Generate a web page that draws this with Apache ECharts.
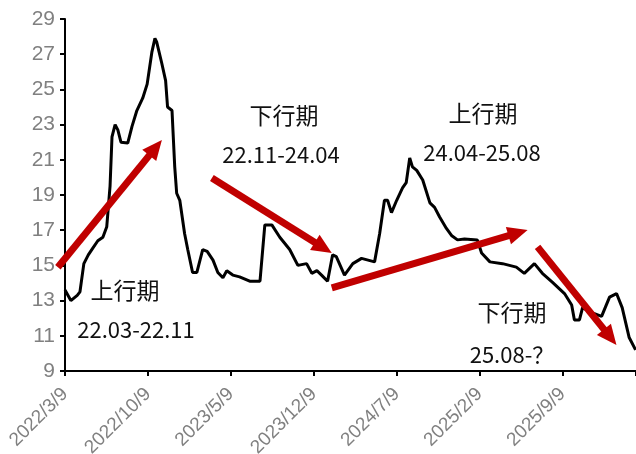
<!DOCTYPE html>
<html><head><meta charset="utf-8">
<script src="https://cdn.jsdelivr.net/npm/echarts@6/dist/echarts.min.js"></script>
<style>html,body{margin:0;padding:0;background:#fff}#c{width:636px;height:454px}</style>
</head><body><div id="c"></div>
<script>
const dates = ['2022-03-09','2022-03-24','2022-04-10','2022-04-17','2022-04-27','2022-05-08','2022-05-20','2022-06-02','2022-06-15','2022-06-25',
'2022-07-03','2022-07-08','2022-07-16','2022-07-23','2022-07-31','2022-08-18','2022-08-29','2022-09-11','2022-09-26','2022-10-07',
'2022-10-19','2022-10-27','2022-11-01','2022-11-14','2022-11-24','2022-11-29','2022-12-10','2022-12-17','2022-12-22','2022-12-30',
'2023-01-12','2023-01-20','2023-02-02','2023-02-13','2023-02-28','2023-03-09','2023-03-24','2023-04-06','2023-04-19','2023-04-29',
'2023-05-14','2023-06-01','2023-06-27','2023-07-23','2023-08-05','2023-08-23','2023-09-13','2023-10-08','2023-10-29','2023-11-21',
'2023-12-04','2023-12-17','2023-12-29','2024-01-14','2024-01-27','2024-02-06','2024-02-27','2024-03-18','2024-04-10','2024-05-13',
'2024-05-26','2024-06-08','2024-06-16','2024-06-26','2024-07-09','2024-07-24','2024-08-03','2024-08-12','2024-08-19','2024-08-30',
'2024-09-15','2024-10-03','2024-10-15','2024-10-28','2024-11-15','2024-11-28','2024-12-13','2024-12-31','2025-02-03','2025-02-14',
'2025-03-05','2025-04-07','2025-05-12','2025-06-02','2025-06-28','2025-07-18','2025-08-13','2025-09-14','2025-10-02','2025-10-09',
'2025-10-22','2025-10-30','2025-11-25','2025-12-18','2026-01-08','2026-01-26','2026-02-10','2026-02-28','2026-03-14'];
const values = [13.6,13.0,13.3,13.5,15.1,15.6,16.0,16.4,16.6,17.2,
19.5,22.3,23.0,22.7,22.0,21.95,22.9,23.8,24.5,25.3,
27.1,27.9,27.7,26.5,25.5,24.0,23.8,20.6,19.1,18.7,
16.8,15.9,14.6,14.6,15.9,15.8,15.3,14.6,14.3,14.7,
14.45,14.35,14.1,14.1,17.3,17.3,16.6,15.9,15.0,15.1,
14.55,14.7,14.45,14.1,15.6,15.5,14.45,15.1,15.4,15.2,
16.8,18.7,18.7,18.0,18.7,19.4,19.7,21.1,20.6,20.4,
19.85,18.55,18.3,17.75,17.1,16.7,16.45,16.5,16.45,15.7,
15.2,15.1,14.9,14.55,15.1,14.55,14.05,13.4,12.75,11.9,
11.9,12.6,12.3,12.1,13.2,13.4,12.6,10.9,10.2];
const tickLabels = ['2022/3/9','2022/10/9','2023/5/9','2023/12/9','2024/7/9','2025/2/9','2025/9/9'];
// annotation arrows in data coords [monthIndex, value]
const arrows = [
  [[-0.6,14.9],[8.18,22.13]],
  [[12.4,19.97],[22.52,15.70]],
  [[22.52,13.72],[39.05,17.01]],
  [[39.89,16.05],[46.55,10.48]]
];
const notes = [
  {t:'上行期', x:125, y:290, f:23},
  {t:'22.03-22.11', x:136, y:330, f:22},
  {t:'下行期', x:284, y:115, f:23},
  {t:'22.11-24.04', x:281, y:155, f:22},
  {t:'上行期', x:483, y:113, f:23},
  {t:'24.04-25.08', x:482, y:153, f:22},
  {t:'下行期', x:512, y:312, f:23},
  {t:'25.08-？', x:512, y:355, f:22}
];
function mIdx(s){const [y,m,d]=s.split('-').map(Number);return (y-2022)*12+(m-3)+(d-9)/30.44;}
const data = dates.map((d,i)=>[mIdx(d),values[i]]);
const chart = echarts.init(document.getElementById('c'));
chart.setOption({
  animation:false,
  grid:{left:65,top:19,right:0,bottom:83,containLabel:false,outerBoundsMode:'none'},
  xAxis:{type:'value',min:0,max:48.2,interval:7,
    axisLine:{lineStyle:{color:'#000',width:2}},
    axisTick:{show:true,length:5,lineStyle:{color:'#000',width:2}},
    splitLine:{show:false},
    axisLabel:{rotate:45,margin:20,color:'#808080',fontSize:19,fontFamily:'Liberation Sans',
      formatter:v=>{const i=Math.round(v/7);return (Math.abs(v-i*7)<0.01&&tickLabels[i])?tickLabels[i]:'';}}
  },
  yAxis:{type:'value',min:9,max:29,interval:2,
    axisLine:{show:true,lineStyle:{color:'#000',width:2}},
    axisTick:{show:true,length:5,lineStyle:{color:'#000',width:2}},
    splitLine:{show:false},
    axisLabel:{color:'#808080',fontSize:21,fontFamily:'Liberation Sans',margin:10}
  },
  series:[{type:'line',data:data,showSymbol:false,smooth:false,clip:false,
    lineStyle:{color:'#000',width:3}}]
});
const g=[];
arrows.forEach(a=>{
  const p0=chart.convertToPixel({gridIndex:0},a[0]);
  const p1=chart.convertToPixel({gridIndex:0},a[1]);
  const dx=p1[0]-p0[0],dy=p1[1]-p0[1],L=Math.hypot(dx,dy),ux=dx/L,uy=dy/L;
  const hl=20,hw=9;
  const bx=p1[0]-ux*hl,by=p1[1]-uy*hl;
  g.push({type:'line',shape:{x1:p0[0],y1:p0[1],x2:bx+ux*2,y2:by+uy*2},style:{stroke:'#C00000',lineWidth:7},z:100});
  g.push({type:'polygon',shape:{points:[[p1[0],p1[1]],[bx-uy*hw,by+ux*hw],[bx+uy*hw,by-ux*hw]]},style:{fill:'#C00000'},z:100});
});
notes.forEach(n=>{
  g.push({type:'text',x:n.x,y:n.y,style:{text:n.t,fill:'#111',font:n.f+'px "Noto Sans CJK SC", "Noto Sans", sans-serif',textAlign:'center',textVerticalAlign:'middle'},z:101});
});
chart.setOption({graphic:g});
</script></body></html>
